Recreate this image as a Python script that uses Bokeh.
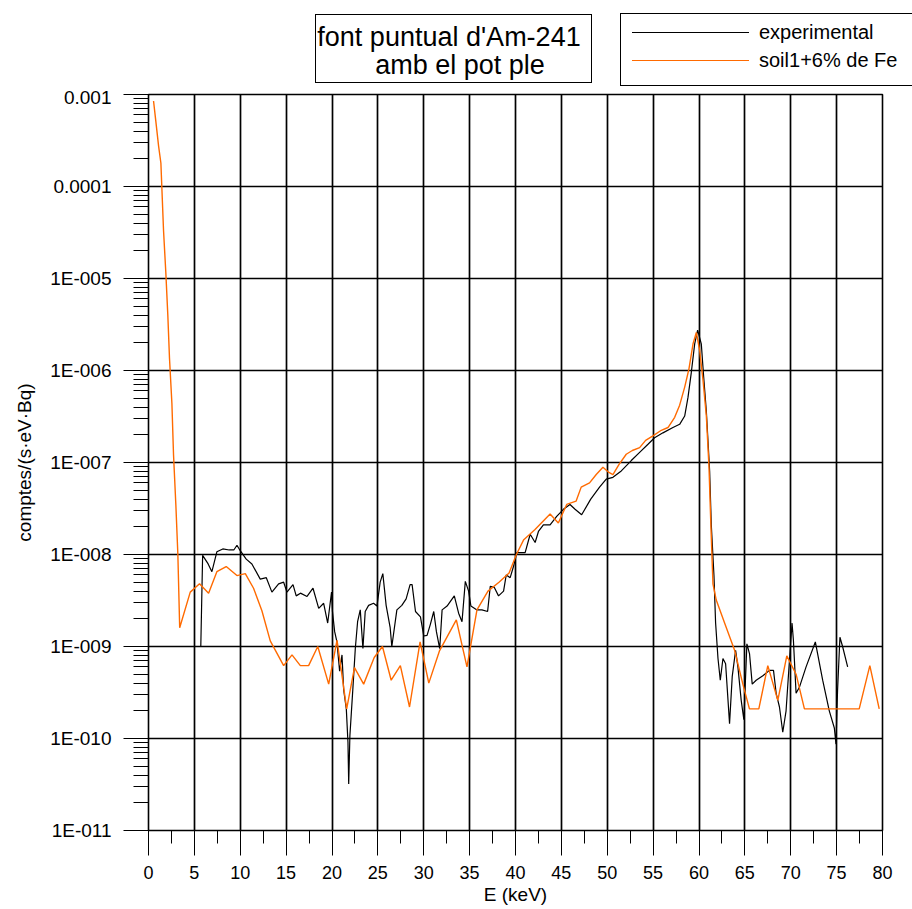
from bokeh.plotting import figure
from bokeh.layouts import column
from bokeh.models import FixedTicker, CustomJSTickFormatter, Range1d, Div
from bokeh.embed import file_html
from bokeh.resources import INLINE

# ---------------- data ----------------
energy_exp = [5.7, 5.9, 6.5, 6.91, 7.45, 8.1, 8.8, 9.3, 9.64, 10.0, 10.65, 11.27,
              12.18, 12.84, 13.45, 14.18, 14.73, 15.09, 15.75, 16.1, 16.56, 17.28,
              17.93, 18.55, 19.09, 19.53, 19.95, 20.05, 20.29, 20.54, 20.83, 21.09,
              21.27, 21.56, 21.74, 21.82, 21.95, 22.28, 22.54, 22.79, 23.08, 23.37,
              23.62, 23.99, 24.53, 24.9, 25.25, 25.54, 25.9, 26.34, 26.52, 27.07,
              27.61, 28.08, 28.51, 28.73, 29.1, 29.64, 30.0, 30.36, 30.72, 31.09,
              31.38, 31.74, 32.0, 32.54, 33.33, 33.8, 34.17, 34.53, 34.89, 35.14,
              35.8, 36.34, 36.96, 37.25, 37.68, 38.15, 38.7, 38.99, 39.42, 39.78,
              40.14, 41.05, 41.6, 42.14, 42.5, 43.04, 43.77, 44.49, 45.22, 45.94,
              46.49, 47.21, 48.2, 49.16, 49.89, 50.62, 51.53, 52.62, 53.53, 54.44,
              55.16, 56.07, 57.16, 57.89, 58.44, 58.8, 59.16, 59.53, 59.85, 60.25,
              60.51, 60.8, 61.0, 61.16, 61.34, 61.63, 61.81, 62.07, 62.32, 62.61,
              62.9, 63.33, 63.62, 63.99, 64.24, 64.6, 64.89, 65.22, 65.51, 65.8,
              66.23, 66.96, 67.68, 68.12, 68.41, 68.77, 69.13, 69.49, 69.86, 70.14,
              70.29, 70.58, 70.94, 71.67, 72.68, 73.48, 74.2, 74.75, 74.93, 75.1,
              75.36, 75.65, 76.2]
counts_exp = [1.0e-9, 9.8e-9, 7.9e-9, 6.5e-9, 1.07e-8, 1.15e-8, 1.12e-8, 1.12e-8,
              1.26e-8, 1.1e-8, 8.9e-9, 7.9e-9, 5.4e-9, 5.6e-9, 3.9e-9, 4.8e-9,
              5.0e-9, 3.9e-9, 4.7e-9, 3.55e-9, 3.8e-9, 3.5e-9, 4.3e-9, 2.6e-9,
              2.95e-9, 1.8e-9, 3.9e-9, 2.4e-9, 1.45e-9, 1.12e-9, 5.4e-10, 8.1e-10,
              3.4e-10, 2.1e-10, 9.1e-11, 3.2e-11, 1.07e-10, 3.55e-10, 9.5e-10,
              1.86e-9, 2.5e-9, 9.5e-10, 2.4e-9, 2.8e-9, 2.95e-9, 2.75e-9, 5.0e-9,
              6.2e-9, 2.8e-9, 1.6e-9, 1.0e-9, 2.5e-9, 2.8e-9, 3.3e-9, 4.7e-9,
              4.7e-9, 2.4e-9, 2.1e-9, 1.3e-9, 1.32e-9, 1.74e-9, 2.4e-9, 1.45e-9,
              9.5e-10, 2.5e-9, 2.75e-9, 3.55e-9, 2.3e-9, 1.86e-9, 5.1e-9, 4.0e-9,
              2.75e-9, 2.5e-9, 2.5e-9, 2.4e-9, 4.5e-9, 4.4e-9, 3.55e-9, 4.0e-9,
              6.0e-9, 5.6e-9, 7.4e-9, 1.05e-8, 1.05e-8, 1.66e-8, 1.35e-8, 1.78e-8,
              2.1e-8, 2.1e-8, 2.6e-8, 3.1e-8, 3.5e-8, 3.1e-8, 2.7e-8, 4.0e-8,
              5.4e-8, 6.6e-8, 6.9e-8, 8.1e-8, 1.05e-7, 1.29e-7, 1.58e-7, 1.86e-7,
              2.1e-7, 2.4e-7, 2.6e-7, 3.2e-7, 5.1e-7, 9.5e-7, 1.95e-6, 2.75e-6,
              1.95e-6, 8.5e-7, 3.6e-7, 1.58e-7, 8.1e-8, 2.1e-8, 5.9e-9, 1.8e-9,
              7.4e-10, 4.3e-10, 7.4e-10, 6.5e-10, 1.45e-10, 4.7e-10, 9.1e-10,
              6.0e-10, 2.6e-10, 1.6e-10, 1.07e-9, 8.3e-10, 3.9e-10, 4.3e-10,
              4.8e-10, 5.5e-10, 5.5e-10, 3.1e-10, 2.2e-10, 1.17e-10, 2.0e-10,
              7.1e-10, 1.8e-9, 1.17e-9, 3.1e-10, 3.6e-10, 6.0e-10, 1.12e-9,
              4.3e-10, 2.0e-10, 1.3e-10, 8.7e-11, 3.3e-10, 1.26e-9, 1.0e-9, 6.0e-10]

energy_sim = [0.55, 0.8, 1.1, 1.35, 1.64, 1.89, 2.11, 2.29, 2.55, 2.73, 2.98, 3.2,
              3.4, 4.55, 5.56, 6.55, 7.45, 8.47, 9.64, 10.55, 11.45, 12.36, 13.27,
              14.73, 15.64, 16.55, 17.45, 18.45, 19.64, 20.55, 21.6, 22.45, 23.45,
              24.6, 25.5, 26.45, 27.45, 28.45, 29.6, 30.55, 31.7, 33.55, 34.71,
              35.8, 37.0, 38.2, 39.3, 40.1, 40.9, 42.1, 43.77, 44.67, 45.58, 46.6,
              47.16, 48.07, 48.8, 49.53, 50.18, 50.62, 51.27, 52.07, 52.73, 53.53,
              54.18, 54.98, 55.89, 56.62, 57.35, 57.89, 58.44, 58.91, 59.35, 59.71,
              60.07, 60.44, 60.8, 61.09, 61.3, 61.52, 61.88, 62.79, 63.88, 64.78,
              65.5, 66.52, 67.5, 68.59, 69.57, 70.58, 71.49, 77.46, 78.62, 79.64]
counts_sim = [8.5e-4, 5.1e-4, 2.75e-4, 1.8e-4, 3.3e-5, 1.15e-5, 3.9e-6, 1.35e-6,
              4.4e-7, 1.2e-7, 3.5e-8, 1.0e-8, 1.6e-9, 3.9e-9, 4.8e-9, 3.8e-9,
              6.5e-9, 7.4e-9, 5.9e-9, 6.2e-9, 4.3e-9, 2.45e-9, 1.15e-9, 6.2e-10,
              8.1e-10, 6.2e-10, 6.2e-10, 1.0e-9, 3.9e-10, 1.17e-9, 2.1e-10, 5.9e-10,
              3.9e-10, 7.6e-10, 1.0e-9, 4.3e-10, 6.2e-10, 2.2e-10, 1.12e-9, 4.0e-10,
              8.9e-10, 1.95e-9, 6.0e-10, 2.5e-9, 4.0e-9, 5.0e-9, 6.3e-9, 1.0e-8,
              1.45e-8, 1.86e-8, 2.75e-8, 2.2e-8, 3.5e-8, 3.8e-8, 5.4e-8, 6.0e-8,
              7.4e-8, 8.9e-8, 7.8e-8, 7.4e-8, 9.5e-8, 1.23e-7, 1.35e-7, 1.45e-7,
              1.74e-7, 1.95e-7, 2.24e-7, 2.4e-7, 3.1e-7, 4.2e-7, 6.6e-7, 1.05e-6,
              1.95e-6, 2.6e-6, 1.66e-6, 7.8e-7, 3.2e-7, 8.9e-8, 2.0e-8, 4.8e-9,
              3.2e-9, 1.8e-9, 9.1e-10, 3.9e-10, 2.1e-10, 2.1e-10, 6.2e-10, 2.6e-10,
              7.9e-10, 5.0e-10, 2.1e-10, 2.1e-10, 6.2e-10, 2.1e-10]

x_ticks = [0, 5, 10, 15, 20, 25, 30, 35, 40, 45, 50, 55, 60, 65, 70, 75, 80]
x_minor = [2.5, 7.5, 12.5, 17.5, 22.5, 27.5, 32.5, 37.5, 42.5, 47.5, 52.5,
           57.5, 62.5, 67.5, 72.5, 77.5]
y_ticks = [1e-11, 1e-10, 1e-9, 1e-8, 1e-7, 1e-6, 1e-5, 1e-4, 1e-3]
y_tick_labels = ["1E-011", "1E-010", "1E-009", "1E-008", "1E-007", "1E-006",
                 "1E-005", "0.0001", "0.001"]
y_minor = [k * t for t in y_ticks[:-1] for k in range(2, 10)]

series_labels = ["experimental", "soil1+6% de Fe"]
series_colors = ["black", "#ff6a00"]
title_lines = ["font puntual d'Am-241", "amb el pot ple"]

FONT = "Liberation Sans"
TOP_H = 86
W, H = 912, 909

# ---------------- header strip (title box + legend box) ----------------
def abs_box(left, top, width, height, extra=""):
    return (f"position:absolute;left:{left}px;top:{top}px;width:{width}px;"
            f"height:{height}px;box-sizing:border-box;{extra}")

def line_text(cx, cy, txt, size, align="center", width=320):
    left = cx - width / 2 if align == "center" else cx
    return (f'<div style="{abs_box(left, cy - 15, width, 30)}'
            f'line-height:30px;text-align:{align};font-size:{size}px;'
            f'white-space:nowrap;color:black;">{txt}</div>')

header_html = (
    f'<div style="position:relative;width:{W}px;height:{TOP_H}px;'
    f'overflow:hidden;background:white;font-family:\'{FONT}\';">'
    # title box
    f'<div style="{abs_box(315, 14, 277, 69, "border:1.2px solid black;")}"></div>'
    + line_text(449, 37, title_lines[0], 27)
    + line_text(460, 65, title_lines[1], 27)
    # legend box
    + f'<div style="{abs_box(620, 13, 330, 73, "border:1.2px solid black;")}"></div>'
    + f'<div style="{abs_box(632, 32, 117, 2, "border-top:1.4px solid " + series_colors[0] + ";")}"></div>'
    + f'<div style="{abs_box(632, 60, 117, 2, "border-top:1.4px solid " + series_colors[1] + ";")}"></div>'
    + line_text(759, 32, series_labels[0], 20, align="left", width=200)
    + line_text(759, 60, series_labels[1], 20, align="left", width=200)
    + '</div>'
)
header = Div(text=header_html, width=W, height=TOP_H, margin=0)

# ---------------- main chart ----------------
p = figure(width=W, height=H - TOP_H, x_range=Range1d(0, 80),
           y_range=Range1d(1e-11, 1e-3), y_axis_type="log",
           output_backend="svg", toolbar_location=None,
           min_border_left=148, min_border_right=30,
           min_border_top=94 - TOP_H, min_border_bottom=79,
           background_fill_color="white", border_fill_color="white")
p.outline_line_color = "black"
p.outline_line_width = 1.6

p.xgrid.ticker = FixedTicker(ticks=x_ticks)
p.ygrid.ticker = FixedTicker(ticks=y_ticks)
for g in (p.xgrid, p.ygrid):
    g.grid_line_color = "black"
    g.grid_line_width = 1.7
    g.grid_line_alpha = 1.0

xa = p.xaxis[0]
xa.ticker = FixedTicker(ticks=x_ticks, minor_ticks=x_minor)
xa.major_tick_out = 25
xa.major_tick_in = 0
xa.minor_tick_out = 13
xa.minor_tick_in = 0
xa.major_label_standoff = 10
xa.axis_label = "E (keV)"
xa.axis_label_standoff = 2
xa.axis_label_text_font = FONT
xa.axis_label_text_font_size = "19px"
xa.axis_label_text_font_style = "normal"
xa.major_label_text_font = FONT
xa.major_label_text_font_size = "18px"

ya = p.yaxis[0]
ya.ticker = FixedTicker(ticks=y_ticks, minor_ticks=y_minor)
ya.formatter = CustomJSTickFormatter(
    args=dict(vals=y_ticks, labs=y_tick_labels),
    code="""
    let best = 0, bd = 1e9;
    for (let i = 0; i < vals.length; i++) {
        const d = Math.abs(Math.log10(tick) - Math.log10(vals[i]));
        if (d < bd) { bd = d; best = i; }
    }
    return labs[best];
    """)
ya.major_tick_out = 25
ya.major_tick_in = 0
ya.minor_tick_out = 15
ya.minor_tick_in = 0
ya.major_label_standoff = 12
ya.axis_label = "comptes/(s·eV·Bq)"
ya.axis_label_standoff = 12
ya.axis_label_text_font = FONT
ya.axis_label_text_font_size = "19px"
ya.axis_label_text_font_style = "normal"
ya.major_label_text_font = FONT
ya.major_label_text_font_size = "19px"

for ax in (xa, ya):
    ax.axis_line_color = "black"
    ax.major_tick_line_color = "black"
    ax.minor_tick_line_color = "black"
    ax.major_label_text_color = "black"
    ax.axis_label_text_color = "black"

p.line(energy_exp, counts_exp, line_color=series_colors[0], line_width=1.2)
p.line(energy_sim, counts_sim, line_color=series_colors[1], line_width=1.4)

layout = column(header, p, spacing=0)
open("out.html", "w").write(file_html(layout, INLINE))
